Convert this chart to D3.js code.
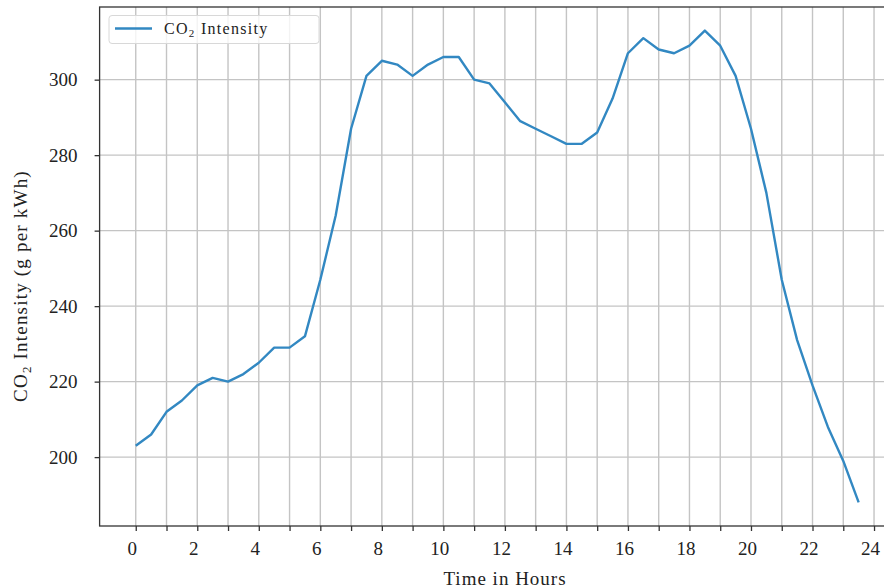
<!DOCTYPE html>
<html lang="en">
<head>
  <meta charset="UTF-8">
  <title>CO2 Intensity</title>
  <script src="https://d3js.org/d3.v7.min.js"></script>
  <style>
    body { margin: 0; background: #fff; }
    svg { display: block; }
    .tick text, .lbl { font-family: "Liberation Serif", "DejaVu Serif", serif; fill: #222; }
    .grid line { stroke: #c4c4c4; stroke-width: 1.4px; }
    .line { fill: none; stroke: #3288c2; stroke-width: 2.4px; stroke-linejoin: round; }
  </style>
</head>
<body>
  <svg width="884" height="588"></svg>

  <script>
    // 時刻（0.5時間刻み）と CO2 原単位
    const hours = d3.range(0, 24, 0.5);
    const intensity = [
      203, 206, 212, 215, 219, 221, 220, 222, 225, 229, 229, 232,
      247, 264, 287, 301, 305, 304, 301, 304, 306, 306, 300, 299,
      294, 289, 287, 285, 283, 283, 286, 295, 307, 311, 308, 307,
      309, 313, 309, 301, 287, 270, 247, 231, 219, 208, 199, 188
    ];
    const xTicks = d3.range(0, 25, 1);
    const xLabels = d3.range(0, 25, 2);
    const yTicks = [200, 220, 240, 260, 280, 300];

    const data = hours.map((h, i) => ({ h: h, v: intensity[i] }));

    const svg = d3.select("svg");
    const pLeft = 99.6, pRight = 894.8, pTop = 7, pBottom = 526;

    // matplotlib 風の 5% マージン
    const xPad = (d3.max(hours) - d3.min(hours)) * 0.05;
    const yPad = (d3.max(intensity) - d3.min(intensity)) * 0.05;
    const x = d3.scaleLinear()
      .domain([d3.min(hours) - xPad, d3.max(hours) + xPad])
      .range([pLeft, pRight]);
    const y = d3.scaleLinear()
      .domain([d3.min(intensity) - yPad, d3.max(intensity) + yPad])
      .range([pBottom, pTop]);

    // グリッド
    const grid = svg.append("g").attr("class", "grid");
    grid.selectAll(".gx").data(xTicks).enter().append("line")
      .attr("x1", d => x(d)).attr("x2", d => x(d))
      .attr("y1", pTop).attr("y2", pBottom);
    grid.selectAll(".gy").data(yTicks).enter().append("line")
      .attr("x1", pLeft).attr("x2", pRight)
      .attr("y1", d => y(d)).attr("y2", d => y(d));

    // 折れ線
    svg.append("path")
      .datum(data)
      .attr("class", "line")
      .attr("d", d3.line().x(d => x(d.h)).y(d => y(d.v)));

    // 軸
    const xAxis = svg.append("g")
      .attr("transform", `translate(0,${pBottom})`)
      .call(d3.axisBottom(x).tickValues(xTicks).tickSize(5).tickPadding(11)
        .tickFormat(d => xLabels.includes(d) ? d : ""));
    xAxis.selectAll("text").attr("font-size", 19).attr("dx", -4);

    const yAxis = svg.append("g")
      .attr("transform", `translate(${pLeft},0)`)
      .call(d3.axisLeft(y).tickValues(yTicks).tickSize(5).tickPadding(17));
    yAxis.selectAll("text").attr("font-size", 19);

    [xAxis, yAxis].forEach(a => {
      a.select(".domain").remove();
      a.selectAll(".tick line").attr("stroke", "#333").attr("stroke-width", 1.3);
    });

    // 枠線
    svg.append("rect")
      .attr("x", pLeft).attr("y", pTop)
      .attr("width", pRight - pLeft).attr("height", pBottom - pTop)
      .attr("fill", "none").attr("stroke", "#333").attr("stroke-width", 1.3);

    // 軸ラベル（Computer Modern に幅を合わせるため字間を少し広げる）
    svg.append("text").attr("class", "lbl")
      .attr("x", 505).attr("y", 585)
      .attr("text-anchor", "middle").attr("font-size", 19)
      .attr("letter-spacing", 1)
      .text("Time in Hours");

    const yl = svg.append("text").attr("class", "lbl")
      .attr("transform", "translate(27,286) rotate(-90)")
      .attr("text-anchor", "middle").attr("font-size", 19)
      .attr("letter-spacing", 1.2);
    yl.append("tspan").text("CO");
    yl.append("tspan").attr("font-size", 13).attr("dy", 4).text("2");
    yl.append("tspan").attr("dy", -4).text(" Intensity (g per kWh)");

    // 凡例
    const lg = svg.append("g");
    lg.append("rect")
      .attr("x", 109).attr("y", 15.5).attr("width", 210).attr("height", 28)
      .attr("rx", 3).attr("fill", "#fff").attr("fill-opacity", 0.8)
      .attr("stroke", "#d8d8d8").attr("stroke-width", 1);
    lg.append("line")
      .attr("x1", 115).attr("x2", 152).attr("y1", 28.5).attr("y2", 28.5)
      .attr("stroke", "#3288c2").attr("stroke-width", 2.4);
    const lt = lg.append("text").attr("class", "lbl")
      .attr("x", 164).attr("y", 33.5).attr("font-size", 16)
      .attr("letter-spacing", 1.3);
    lt.append("tspan").text("CO");
    lt.append("tspan").attr("font-size", 11).attr("dy", 3).text("2");
    lt.append("tspan").attr("dy", -3).text(" Intensity");
  </script>
</body>
</html>
